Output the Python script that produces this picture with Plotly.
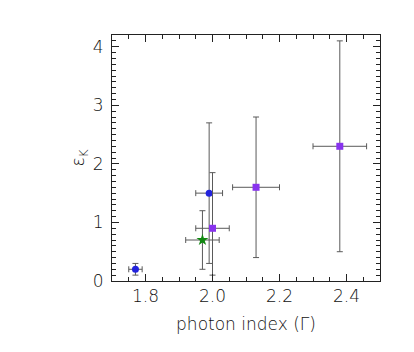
import plotly.graph_objects as go

# Data
blue_x = [1.77, 1.99]
blue_y = [0.2, 1.5]
blue_xerr = [0.02, 0.04]
blue_yerr = [0.1, 1.2]

purple_x = [2.0, 2.13, 2.38]
purple_y = [0.9, 1.6, 2.3]
purple_xerr = [0.05, 0.07, 0.08]
purple_yerr_plus = [0.95, 1.2, 1.8]
purple_yerr_minus = [0.8, 1.2, 1.8]

green_x = [1.97]
green_y = [0.7]
green_xerr = [0.05]
green_yerr = [0.5]

x_ticks = [1.8, 2.0, 2.2, 2.4]
x_ticklabels = ["1.8", "2.0", "2.2", "2.4"]
y_ticks = [0, 1, 2, 3, 4]

FONT = "DejaVu Sans ExtraLight, DejaVu Sans, sans-serif"
TXT = "#111111"
ERR = dict(color="#5a5a5a", thickness=1, width=3)

fig = go.Figure()
fig.add_trace(go.Scatter(
    x=blue_x, y=blue_y, mode="markers",
    marker=dict(symbol="circle", size=7, color="#2323dd"),
    error_x=dict(type="data", array=blue_xerr, **ERR),
    error_y=dict(type="data", array=blue_yerr, **ERR),
    showlegend=False))
fig.add_trace(go.Scatter(
    x=purple_x, y=purple_y, mode="markers",
    marker=dict(symbol="square", size=7, color="#8833ee"),
    error_x=dict(type="data", array=purple_xerr, **ERR),
    error_y=dict(type="data", array=purple_yerr_plus, arrayminus=purple_yerr_minus, **ERR),
    showlegend=False))
fig.add_trace(go.Scatter(
    x=green_x, y=green_y, mode="markers",
    marker=dict(symbol="star", size=9, color="#118811"),
    error_x=dict(type="data", array=green_xerr, **ERR),
    error_y=dict(type="data", array=green_yerr, **ERR),
    showlegend=False))

axis_common = dict(
    showline=True, linecolor="#222222", linewidth=1, mirror="allticks",
    ticks="inside", ticklen=7, tickcolor="#222222", tickwidth=1,
    showgrid=False, zeroline=False, automargin=False,
    tickfont=dict(family=FONT, size=17, color=TXT, weight=300),
)

fig.update_xaxes(
    range=[1.7, 2.5], tickvals=x_ticks, ticktext=x_ticklabels,
    minor=dict(ticks="inside", ticklen=4, dtick=0.05, tick0=1.7, tickcolor="#222222"),
    title=dict(text="photon index (Γ)", font=dict(family=FONT, size=17, color=TXT, weight=300), standoff=12),
    **axis_common)
fig.update_yaxes(
    range=[0, 4.2], tickvals=y_ticks, ticklabelstandoff=4,
    minor=dict(ticks="inside", ticklen=4, dtick=0.1, tick0=0, tickcolor="#222222"),
    title=dict(text="ε<sub>K</sub>", font=dict(family=FONT, size=17, color=TXT, weight=300), standoff=3),
    **axis_common)

# the page body adds an 8px offset, so the figure is sized to land the
# plot box at the reference position inside the 414x352 window
fig.update_layout(
    width=406, height=344,
    margin=dict(l=104, r=34, t=27, b=71),
    paper_bgcolor="white", plot_bgcolor="white",
)

fig.write_html("out.html")
